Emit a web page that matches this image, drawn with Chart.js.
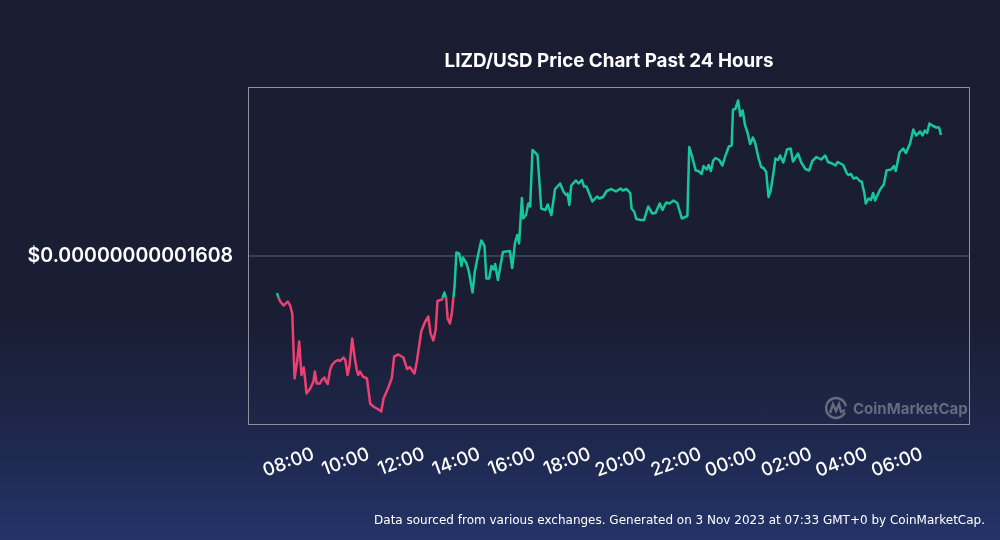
<!DOCTYPE html>
<html>
<head>
<meta charset="utf-8">
<script src="https://cdn.jsdelivr.net/npm/chart.js@4.4.0/dist/chart.umd.min.js"></script>
<style>
  html, body {
    margin: 0;
    padding: 0;
    width: 1000px;
    height: 540px;
    overflow: hidden;
  }
  body {
    background: linear-gradient(180deg, #1a1d31 0%, #1a1e34 60%, #1f2a52 85%, #243468 100%);
  }
  #wrap {
    position: relative;
    width: 1000px;
    height: 540px;
  }
</style>
</head>
<body>
<div id="wrap"><canvas id="chartPrice" width="1000" height="540"></canvas></div>
<script>
/* =========================
   DATA
========================= */

// minutes since 00:00 on 2 Nov (07:33 -> next day 07:33)
const times = [
  453, 456, 460, 467, 472, 476, 481, 486, 491, 497,
  501, 506, 511, 514, 517, 525, 532, 535, 539, 546,
  550, 556, 559, 563, 568, 572, 579, 585, 590, 597,
  601, 606, 610, 616, 621, 626, 629, 633, 639, 648,
  655, 662, 673, 679, 684, 694, 702, 707, 716, 727,
  735, 741, 751, 756, 766, 774, 781, 786, 792, 797,
  801, 811, 816, 820, 823, 828, 832, 835, 838, 842,
  848, 853, 856, 864, 869, 877, 882, 889, 896, 903,
  907, 913, 918, 923, 926, 932, 939, 943, 958, 963,
  969, 974, 978, 984, 987, 993, 998, 1002, 1007, 1018,
  1026, 1035, 1040, 1048, 1056, 1067, 1074, 1080, 1083, 1087,
  1091, 1101, 1107, 1114, 1119, 1124, 1137, 1147, 1152, 1160,
  1168, 1178, 1188, 1198, 1203, 1211, 1219, 1222, 1228, 1232,
  1242, 1249, 1258, 1267, 1274, 1283, 1289, 1297, 1304, 1313,
  1321, 1331, 1343, 1347, 1353, 1361, 1367, 1374, 1378, 1385,
  1389, 1394, 1399, 1404, 1412, 1419, 1426, 1433, 1439, 1442,
  1447, 1453, 1458, 1463, 1468, 1474, 1479, 1485, 1490, 1497,
  1503, 1508, 1514, 1519, 1524, 1529, 1534, 1540, 1544, 1551,
  1559, 1567, 1572, 1579, 1583, 1590, 1599, 1607, 1614, 1623,
  1633, 1642, 1648, 1657, 1664, 1669, 1681, 1689, 1692, 1698,
  1703, 1710, 1717, 1721, 1727, 1730, 1736, 1741, 1746, 1750,
  1761, 1769, 1775, 1785, 1791, 1795, 1803, 1811, 1817, 1826,
  1833, 1839, 1848, 1853, 1858, 1863, 1868, 1876, 1883, 1889,
  1893
];

// price in units of 1e-15 USD
const prices = [
  16006, 15997, 15989, 15981, 15985, 15989, 15982, 15965, 15835, 15872,
  15909, 15842, 15857, 15832, 15805, 15815, 15829, 15849, 15825, 15825,
  15832, 15837, 15829, 15824, 15852, 15862, 15869, 15872, 15870, 15877,
  15872, 15842, 15859, 15915, 15879, 15852, 15842, 15849, 15839, 15835,
  15785, 15779, 15773, 15769, 15795, 15816, 15836, 15879, 15883, 15877,
  15854, 15858, 15845, 15868, 15930, 15948, 15959, 15925, 15911, 15932,
  15990, 15993, 16007, 15994, 15955, 15945, 15965, 15992, 16019, 16087,
  16085, 16060, 16077, 16065, 16049, 16007, 16049, 16082, 16111, 16100,
  16035, 16035, 16060, 16053, 16064, 16032, 16068, 16088, 16090, 16056,
  16106, 16122, 16105, 16196, 16155, 16162, 16185, 16179, 16292, 16282,
  16175, 16172, 16183, 16162, 16214, 16225, 16209, 16202, 16205, 16182,
  16221, 16231, 16225, 16232, 16219, 16219, 16189, 16199, 16195, 16198,
  16210, 16214, 16209, 16215, 16211, 16214, 16206, 16175, 16168, 16154,
  16152, 16152, 16179, 16165, 16166, 16185, 16172, 16187, 16185, 16191,
  16186, 16155, 16160, 16298, 16280, 16251, 16250, 16244, 16260, 16253,
  16262, 16250, 16271, 16276, 16272, 16261, 16282, 16299, 16301, 16373,
  16374, 16391, 16360, 16371, 16342, 16325, 16304, 16317, 16306, 16277,
  16258, 16256, 16248, 16198, 16212, 16242, 16275, 16272, 16281, 16267,
  16293, 16295, 16269, 16279, 16285, 16267, 16254, 16251, 16270, 16278,
  16273, 16281, 16268, 16265, 16261, 16268, 16262, 16245, 16242, 16244,
  16235, 16237, 16230, 16229, 16205, 16185, 16195, 16192, 16206, 16191,
  16213, 16223, 16251, 16253, 16260, 16250, 16287, 16295, 16286, 16305,
  16333, 16321, 16329, 16321, 16331, 16326, 16345, 16340, 16337, 16337,
  16322
];

// reference price: above = green, below = red
const basePrice = 15997;

const yTicks = [16080];
const xTicks = [480, 600, 720, 840, 960, 1080, 1200, 1320, 1440, 1560, 1680, 1800];

const titleText = 'LIZD/USD Price Chart Past 24 Hours';
const footerText = 'Data sourced from various exchanges. Generated on 3 Nov 2023 at 07:33 GMT+0 by CoinMarketCap.';

const GREEN = '#16c79a';
const RED = '#ee3f71';

/* =========================
   DECOR PLUGIN
========================= */

const decor = {
  id: 'decor',

  beforeDatasetsDraw(chart) {
    const { ctx, chartArea: a } = chart;
    ctx.save();

    // plot frame
    ctx.strokeStyle = '#8d909e';
    ctx.lineWidth = 1;
    ctx.strokeRect(a.left + 0.5, a.top + 0.5, a.right - a.left - 1, a.bottom - a.top - 1);

    // watermark
    const cx = 836, cy = 408;
    ctx.strokeStyle = '#666a7e';
    ctx.lineWidth = 2.4;
    ctx.beginPath();
    ctx.arc(cx, cy, 10, 0.15 * Math.PI, 1.95 * Math.PI);
    ctx.stroke();
    ctx.beginPath();
    ctx.moveTo(cx - 6, cy + 5);
    ctx.lineTo(cx - 3, cy - 4);
    ctx.lineTo(cx, cy + 3);
    ctx.lineTo(cx + 3, cy - 4);
    ctx.lineTo(cx + 5, cy + 4);
    ctx.lineTo(cx + 9, cy + 2);
    ctx.stroke();

    ctx.fillStyle = '#666a7e';
    ctx.font = '700 15px Inter';
    ctx.textAlign = 'left';
    ctx.textBaseline = 'middle';
    ctx.fillText('CoinMarketCap', 853, 409);

    ctx.restore();
  },

  afterDraw(chart) {
    const { ctx, chartArea: a } = chart;
    ctx.save();

    ctx.fillStyle = '#ffffff';
    ctx.font = '700 18.8px Inter';
    ctx.textAlign = 'center';
    ctx.textBaseline = 'middle';
    ctx.fillText(titleText, (a.left + a.right) / 2, 61);

    ctx.font = '12px "DejaVu Sans"';
    ctx.textAlign = 'right';
    ctx.fillText(footerText, 985, 521);

    ctx.restore();
  }
};

/* =========================
   CHART
========================= */

const lineColor = (context) => {
  const chart = context.chart;
  const { ctx, chartArea, scales } = chart;
  if (!chartArea || !scales.y) {
    return GREEN;
  }
  const yb = scales.y.getPixelForValue(basePrice);
  const h = chartArea.bottom - chartArea.top;
  if (!isFinite(yb) || !(h > 0)) {
    return GREEN;
  }
  const stop = Math.min(Math.max((yb - chartArea.top) / h, 0), 1);
  const g = ctx.createLinearGradient(0, chartArea.top, 0, chartArea.bottom);
  g.addColorStop(0, GREEN);
  g.addColorStop(stop, GREEN);
  g.addColorStop(stop, RED);
  g.addColorStop(1, RED);
  return g;
};

const pad2 = (n) => (n < 10 ? '0' : '') + n;

new Chart(document.getElementById('chartPrice'), {

  type: 'line',

  data: {
    datasets: [{
      data: times.map((t, i) => ({ x: t, y: prices[i] })),
      borderColor: lineColor,
      borderWidth: 2.5,
      borderJoinStyle: 'round',
      pointRadius: 0,
      tension: 0,
      fill: false
    }]
  },

  options: {
    responsive: false,
    animation: false,
    devicePixelRatio: 1,
    layout: {
      padding: { top: 87, right: 30, bottom: 0, left: 0 }
    },
    plugins: {
      legend: { display: false },
      tooltip: { enabled: false }
    },
    scales: {
      x: {
        type: 'linear',
        min: 390,
        max: 1956,
        afterFit: (scale) => { scale.height = 115; },
        afterBuildTicks: (scale) => { scale.ticks = xTicks.map(v => ({ value: v })); },
        grid: { display: false },
        border: { display: false },
        ticks: {
          color: '#ffffff',
          font: { family: 'Inter', size: 18.5, weight: '500' },
          minRotation: 20,
          maxRotation: 20,
          padding: 10,
          labelOffset: 24,
          autoSkip: false,
          callback: (v) => pad2(Math.floor(v / 60) % 24) + ':' + pad2(v % 60)
        }
      },
      y: {
        min: 15742,
        max: 16418,
        afterFit: (scale) => { scale.width = 248; },
        afterBuildTicks: (scale) => { scale.ticks = yTicks.map(v => ({ value: v })); },
        grid: {
          color: '#3b3f53',
          lineWidth: 2,
          drawTicks: false
        },
        border: { display: false },
        ticks: {
          color: '#ffffff',
          font: { family: 'Inter', size: 19.5, weight: '600' },
          padding: 15,
          callback: (v) => '$' + (v / 1e15).toFixed(14)
        }
      }
    }
  },

  plugins: [decor]

});
</script>
</body>
</html>
